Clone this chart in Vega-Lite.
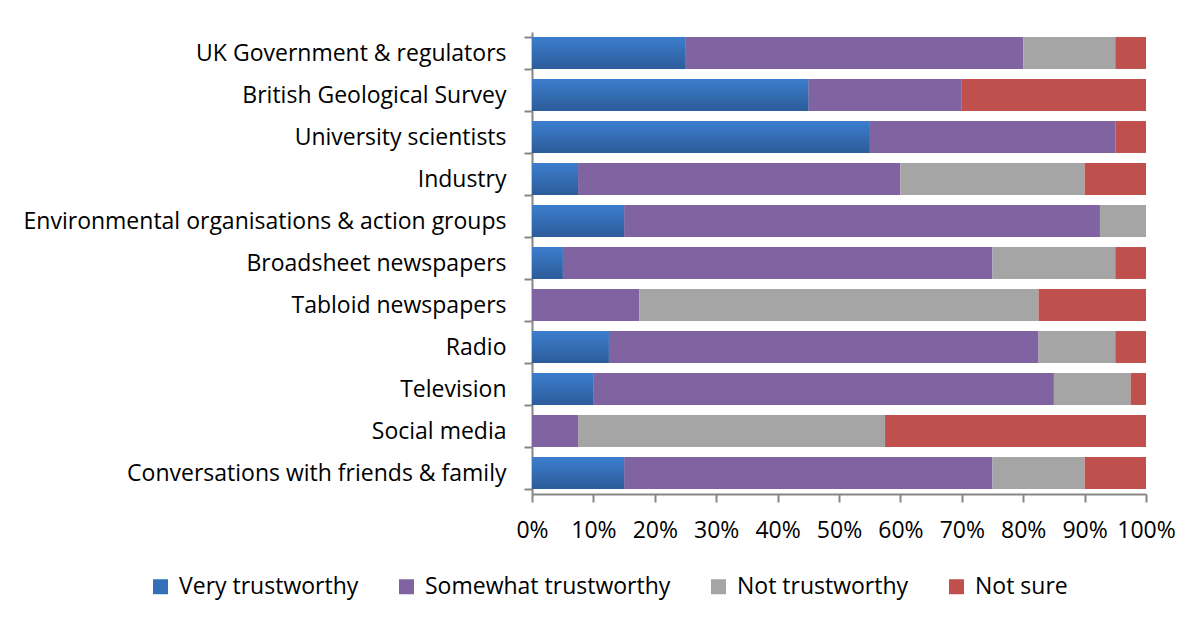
{
  "$schema": "https://vega.github.io/schema/vega-lite/v6.json",
  "autosize": "none",
  "width": 614,
  "height": 462,
  "padding": {"left": 532, "top": 32, "right": 58, "bottom": 131},
  "background": "white",
  "config": {
    "view": {"stroke": null},
    "font": "Open Sans",
    "axis": {"labelFont": "Open Sans", "labelColor": "#000000", "domainColor": "#868686", "tickColor": "#868686", "domainWidth": 2, "tickWidth": 2, "tickSize": 8, "grid": false, "title": null}
  },
  "data": {
    "values": [
      {"source": "UK Government & regulators", "response": "Very trustworthy", "value": 25},
      {"source": "UK Government & regulators", "response": "Somewhat trustworthy", "value": 55},
      {"source": "UK Government & regulators", "response": "Not trustworthy", "value": 15},
      {"source": "UK Government & regulators", "response": "Not sure", "value": 5},
      {"source": "British Geological Survey", "response": "Very trustworthy", "value": 45},
      {"source": "British Geological Survey", "response": "Somewhat trustworthy", "value": 25},
      {"source": "British Geological Survey", "response": "Not trustworthy", "value": 0},
      {"source": "British Geological Survey", "response": "Not sure", "value": 30},
      {"source": "University scientists", "response": "Very trustworthy", "value": 55},
      {"source": "University scientists", "response": "Somewhat trustworthy", "value": 40},
      {"source": "University scientists", "response": "Not trustworthy", "value": 0},
      {"source": "University scientists", "response": "Not sure", "value": 5},
      {"source": "Industry", "response": "Very trustworthy", "value": 7.5},
      {"source": "Industry", "response": "Somewhat trustworthy", "value": 52.5},
      {"source": "Industry", "response": "Not trustworthy", "value": 30},
      {"source": "Industry", "response": "Not sure", "value": 10},
      {"source": "Environmental organisations & action groups", "response": "Very trustworthy", "value": 15},
      {"source": "Environmental organisations & action groups", "response": "Somewhat trustworthy", "value": 77.5},
      {"source": "Environmental organisations & action groups", "response": "Not trustworthy", "value": 7.5},
      {"source": "Environmental organisations & action groups", "response": "Not sure", "value": 0},
      {"source": "Broadsheet newspapers", "response": "Very trustworthy", "value": 5},
      {"source": "Broadsheet newspapers", "response": "Somewhat trustworthy", "value": 70},
      {"source": "Broadsheet newspapers", "response": "Not trustworthy", "value": 20},
      {"source": "Broadsheet newspapers", "response": "Not sure", "value": 5},
      {"source": "Tabloid newspapers", "response": "Very trustworthy", "value": 0},
      {"source": "Tabloid newspapers", "response": "Somewhat trustworthy", "value": 17.5},
      {"source": "Tabloid newspapers", "response": "Not trustworthy", "value": 65},
      {"source": "Tabloid newspapers", "response": "Not sure", "value": 17.5},
      {"source": "Radio", "response": "Very trustworthy", "value": 12.5},
      {"source": "Radio", "response": "Somewhat trustworthy", "value": 70},
      {"source": "Radio", "response": "Not trustworthy", "value": 12.5},
      {"source": "Radio", "response": "Not sure", "value": 5},
      {"source": "Television", "response": "Very trustworthy", "value": 10},
      {"source": "Television", "response": "Somewhat trustworthy", "value": 75},
      {"source": "Television", "response": "Not trustworthy", "value": 12.5},
      {"source": "Television", "response": "Not sure", "value": 2.5},
      {"source": "Social media", "response": "Very trustworthy", "value": 0},
      {"source": "Social media", "response": "Somewhat trustworthy", "value": 7.5},
      {"source": "Social media", "response": "Not trustworthy", "value": 50},
      {"source": "Social media", "response": "Not sure", "value": 42.5},
      {"source": "Conversations with friends & family", "response": "Very trustworthy", "value": 15},
      {"source": "Conversations with friends & family", "response": "Somewhat trustworthy", "value": 60},
      {"source": "Conversations with friends & family", "response": "Not trustworthy", "value": 15},
      {"source": "Conversations with friends & family", "response": "Not sure", "value": 10}
    ]
  },
  "encoding": {
    "y": {
      "field": "source", "type": "nominal", "sort": null,
      "scale": {"paddingInner": 0.24, "paddingOuter": 0.12},
      "axis": {"tickBand": "extent", "labelFontSize": 23, "labelPadding": 18, "labelLimit": 600}
    }
  },
  "layer": [
    {
      "mark": {"type": "bar"},
      "encoding": {
        "x": {
          "field": "value", "type": "quantitative", "stack": "zero",
          "scale": {"domain": [0, 100], "nice": false, "zero": true},
          "axis": {"values": [0, 10, 20, 30, 40, 50, 60, 70, 80, 90, 100], "labelExpr": "datum.value + '%'", "labelFontSize": 23, "labelPadding": 17, "labelOverlap": false, "labelFlush": false}
        },
        "color": {
          "field": "response", "type": "nominal",
          "sort": ["Very trustworthy", "Somewhat trustworthy", "Not trustworthy", "Not sure"],
          "scale": {"domain": ["Very trustworthy", "Somewhat trustworthy", "Not trustworthy", "Not sure"], "range": ["#3470BA", "#8064A2", "#A5A5A5", "#C0504D"]},
          "legend": {"title": null, "orient": "none", "legendX": -383, "legendY": 543, "direction": "horizontal", "columns": 4, "symbolType": "square", "symbolSize": 225, "symbolStrokeWidth": 0, "labelFontSize": 23, "labelFont": "Open Sans", "labelColor": "#000000", "labelOffset": 7, "columnPadding": 36, "labelLimit": 400}
        },
        "order": {"field": "response", "sort": "descending"}
      }
    },
    {
      "transform": [{"filter": "datum.response === 'Very trustworthy'"}],
      "mark": {"type": "bar", "color": {"gradient": "linear", "x1": 0, "y1": 0, "x2": 0, "y2": 1, "stops": [{"offset": 0, "color": "#3C7ECD"}, {"offset": 1, "color": "#2C5C9A"}]}},
      "encoding": {
        "x": {"field": "value", "type": "quantitative", "stack": null}
      }
    }
  ]
}
